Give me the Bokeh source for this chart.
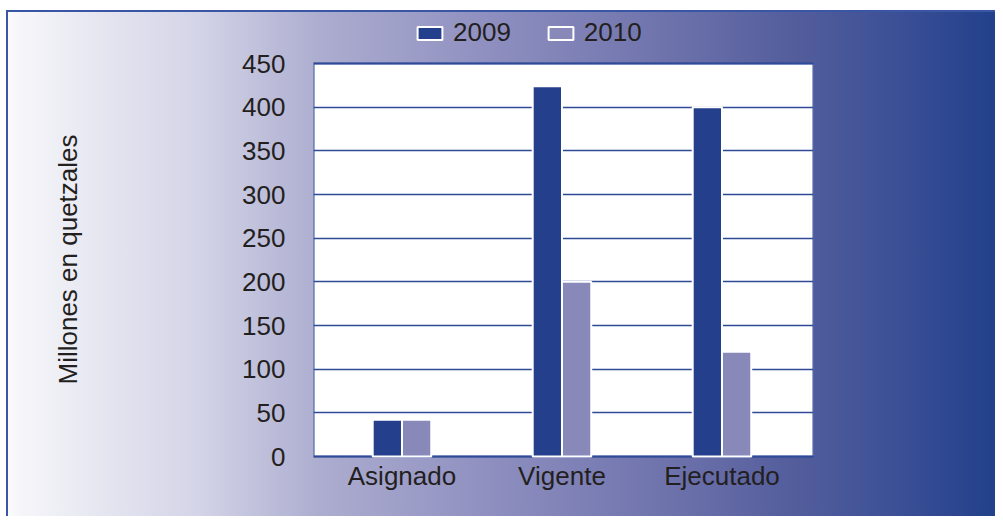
from bokeh.plotting import figure
from bokeh.models import (ColumnDataSource, Legend, LegendItem, FixedTicker, Range1d,
                          BoxAnnotation)
from bokeh.core.properties import value
from bokeh.embed import file_html
from bokeh.resources import INLINE

# ---- data ----
categories = ["Asignado", "Vigente", "Ejecutado"]
values_2009 = [42, 424, 400]
values_2010 = [42, 200, 120]
series_names = ["2009", "2010"]
y_ticks = [0, 50, 100, 150, 200, 250, 300, 350, 400, 450]
y_min, y_max = 0, 450

# ---- styles ----
C2009 = "#24408c"
C2010 = "#8889b9"
GRID = "#2f4a97"
TXT = "#231f20"
FONT = "Liberation Sans"
FS = "26px"

x_pos = list(range(len(categories)))
bar_w = 0.183
off = bar_w / 2
X0, X1 = -0.553, 2.572

src = ColumnDataSource(dict(
    x9=[x - off for x in x_pos],
    x10=[x + off for x in x_pos],
    v9=values_2009,
    v10=values_2010,
))

W, H = 995, 516
# frame spans page y 12..506 so that the 0..450 box sits at 63..456
PX_PER_UNIT = (456 - 63) / (y_max - y_min)
y_lo = y_min - (506 - 456) / PX_PER_UNIT
y_hi = y_max + (63 - 12) / PX_PER_UNIT

p = figure(width=W, height=H, output_backend="svg", toolbar_location=None,
           x_range=Range1d(X0, X1), y_range=Range1d(y_lo, y_hi),
           min_border_left=313, min_border_right=W - 813,
           min_border_top=12, min_border_bottom=H - 506)

p.border_fill_color = None
p.background_fill_color = None
p.outline_line_color = None

gradient = ("linear-gradient(#ffffff,#ffffff) 0 0 / 100% 10px no-repeat, "
            "linear-gradient(#ffffff,#ffffff) 0 0 / 6px 100% no-repeat, "
            "linear-gradient(#3a55a3,#3a55a3) 6px 10px / 100% 2px no-repeat, "
            "linear-gradient(#3a55a3,#3a55a3) 6px 10px / 2px 100% no-repeat, "
            "linear-gradient(to right, #ffffff 0%, #f6f6fa 2%, #e6e6f1 10%, #d3d4e7 20%, "
            "#adadd0 32%, #8d8ebf 50%, #7276ae 65%, #535d9c 80%, #3c5096 90%, #22408b 100%)")
p.styles = {"background": gradient}

# white plotting area with blue border
p.add_layout(BoxAnnotation(left=X0, right=X1, bottom=y_min, top=y_max, level="image",
                           fill_color="white", fill_alpha=1,
                           line_color=GRID, line_width=2, line_alpha=1))

r9 = p.vbar(x="x9", top="v9", width=bar_w, source=src, fill_color=C2009,
            line_color="white", line_width=2)
r10 = p.vbar(x="x10", top="v10", width=bar_w, source=src, fill_color=C2010,
             line_color="white", line_width=2)

# grid
p.xgrid.grid_line_color = None
p.ygrid.grid_line_color = GRID
p.ygrid.grid_line_width = 1.5
p.ygrid.ticker = FixedTicker(ticks=y_ticks)

# category labels under the box
p.text(x=x_pos, y=[y_min] * len(categories), text=categories,
       text_align="center", text_baseline="top", y_offset=4,
       text_font=value(FONT), text_font_size=FS, text_color=TXT)
p.xaxis.visible = False

# y axis
p.yaxis.ticker = FixedTicker(ticks=y_ticks)
ax = p.yaxis[0]
ax.axis_line_color = None
ax.major_tick_line_color = None
ax.minor_tick_line_color = None
ax.major_tick_out = 0
ax.major_tick_in = 0
ax.major_label_text_font = FONT
ax.major_label_text_font_size = FS
ax.major_label_text_color = TXT
ax.major_label_standoff = 28
ax.axis_label = "Millones en quetzales"
ax.axis_label_text_font = FONT
ax.axis_label_text_font_size = FS
ax.axis_label_text_font_style = "normal"
ax.axis_label_text_color = TXT
ax.axis_label_standoff = 156

legend = Legend(items=[LegendItem(label=series_names[0], renderers=[r9]),
                       LegendItem(label=series_names[1], renderers=[r10])],
                orientation="horizontal", location=(101, 506 - 48),
                glyph_width=31, glyph_height=16, label_standoff=8, spacing=34,
                padding=0, margin=0, border_line_color=None,
                background_fill_alpha=0,
                label_text_font=FONT, label_text_font_size=FS, label_text_color=TXT)
p.add_layout(legend, "center")

open("out.html", "w").write(file_html(p, INLINE))
